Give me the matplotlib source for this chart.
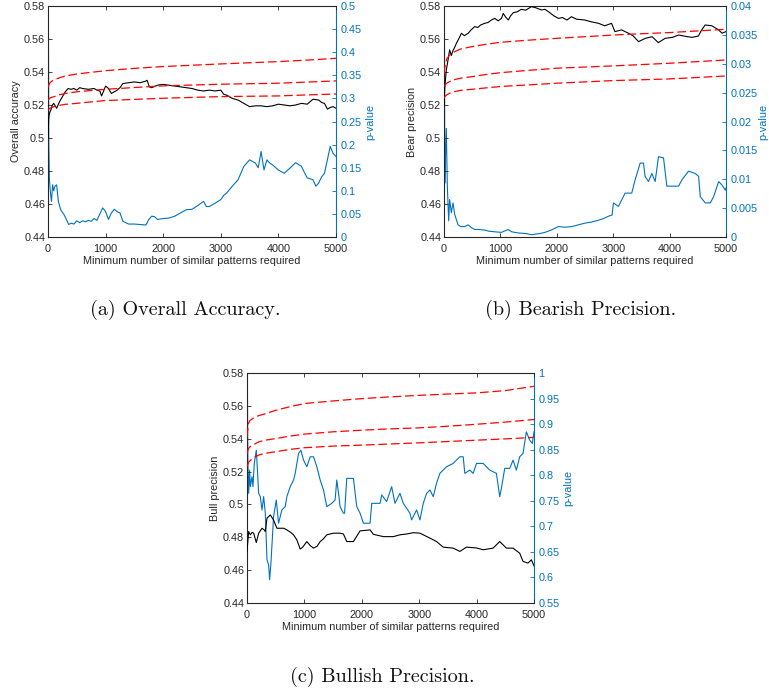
import matplotlib
matplotlib.use("Agg")
import matplotlib.pyplot as plt
from matplotlib.ticker import FuncFormatter

plt.rcParams['font.family'] = ['Liberation Sans', 'DejaVu Sans']

# ---------------- shared ----------------
x_ticks = [0, 1000, 2000, 3000, 4000, 5000]
left_ticks = [0.44, 0.46, 0.48, 0.5, 0.52, 0.54, 0.56, 0.58]
xlabel = "Minimum number of similar patterns required"
red_x = [0, 25, 50, 100, 200, 300, 500, 750, 1000, 1500, 2000, 2500, 3000, 3500, 4000, 4500, 5000]

# ---------------- (a) overall accuracy ----------------
a_acc_x = [0, 6, 12, 25, 50, 75, 100, 150, 200, 250, 300, 350, 400, 450, 500, 550, 600, 700, 800,
           850, 900, 930, 960, 1000, 1050, 1100, 1150, 1200, 1250, 1300, 1400, 1500, 1600, 1650,
           1700, 1720, 1760, 1800, 1900, 2000, 2100, 2200, 2300, 2400, 2500, 2600, 2700, 2800,
           2900, 3000, 3050, 3100, 3200, 3300, 3400, 3500, 3600, 3700, 3800, 3900, 4000, 4100,
           4200, 4300, 4400, 4500, 4600, 4700, 4750, 4800, 4850, 4900, 4950, 5000]
a_acc_y = [0.500, 0.506, 0.512, 0.515, 0.517, 0.520, 0.521, 0.518, 0.522, 0.525, 0.528, 0.530,
           0.5295, 0.530, 0.529, 0.5305, 0.530, 0.5295, 0.530, 0.529, 0.5285, 0.5255, 0.528,
           0.5315, 0.530, 0.527, 0.528, 0.529, 0.5305, 0.533, 0.5335, 0.534, 0.5335, 0.534,
           0.5345, 0.535, 0.531, 0.5305, 0.532, 0.5325, 0.532, 0.5315, 0.531, 0.5305, 0.530,
           0.529, 0.5285, 0.529, 0.5285, 0.529, 0.5265, 0.526, 0.524, 0.523, 0.521, 0.519,
           0.5195, 0.5195, 0.519, 0.5195, 0.5205, 0.520, 0.5195, 0.520, 0.521, 0.5205, 0.5235,
           0.523, 0.5215, 0.521, 0.5175, 0.5185, 0.519, 0.518]
a_p_x = [0, 8, 14, 25, 40, 60, 80, 100, 120, 150, 180, 220, 280, 330, 360, 400, 450, 500, 550,
         600, 650, 700, 750, 800, 850, 900, 950, 1000, 1050, 1100, 1150, 1200, 1250, 1300, 1400,
         1500, 1600, 1700, 1750, 1800, 1850, 1900, 2000, 2100, 2200, 2300, 2400, 2500, 2600,
         2700, 2750, 2800, 2900, 3000, 3050, 3100, 3200, 3300, 3400, 3500, 3600, 3650, 3700,
         3750, 3800, 3850, 3900, 4000, 4100, 4200, 4300, 4400, 4450, 4500, 4600, 4650, 4700,
         4750, 4800, 4850, 4900, 4950, 5000]
a_p_y = [0.45, 0.44, 0.20, 0.124, 0.099, 0.077, 0.113, 0.10, 0.11, 0.113, 0.077, 0.059, 0.048,
         0.035, 0.027, 0.03, 0.028, 0.035, 0.031, 0.035, 0.033, 0.036, 0.034, 0.04, 0.036, 0.05,
         0.063, 0.055, 0.038, 0.052, 0.06, 0.055, 0.052, 0.034, 0.028, 0.028, 0.027, 0.026,
         0.038, 0.045, 0.044, 0.038, 0.040, 0.041, 0.045, 0.052, 0.059, 0.060, 0.068, 0.077,
         0.066, 0.066, 0.073, 0.081, 0.09, 0.095, 0.11, 0.124, 0.153, 0.167, 0.160, 0.15, 0.185,
         0.145, 0.167, 0.16, 0.156, 0.145, 0.138, 0.149, 0.161, 0.153, 0.14, 0.128, 0.124, 0.11,
         0.117, 0.13, 0.138, 0.167, 0.196, 0.181, 0.174]
a_red_hi = [0.5308, 0.533, 0.534, 0.5352, 0.5365, 0.5376, 0.5388, 0.5398, 0.5408, 0.5422, 0.5433,
            0.5441, 0.5449, 0.5456, 0.5463, 0.5472, 0.5483]
a_red_mid = [0.523, 0.524, 0.5245, 0.525, 0.5262, 0.527, 0.528, 0.5288, 0.5295, 0.5306, 0.5316,
             0.5321, 0.5326, 0.5329, 0.5332, 0.5339, 0.5346]
a_red_lo = [0.517, 0.5178, 0.5183, 0.519, 0.5198, 0.5204, 0.521, 0.5219, 0.5227, 0.5234, 0.5241,
            0.5246, 0.5251, 0.5253, 0.5255, 0.5261, 0.5267]
a_right_ticks = [0, 0.05, 0.1, 0.15, 0.2, 0.25, 0.3, 0.35, 0.4, 0.45, 0.5]

# ---------------- (b) bearish precision ----------------
b_prec_x = [0, 15, 40, 70, 100, 130, 160, 190, 220, 260, 310, 360, 430, 480, 545, 600, 650, 720,
            780, 840, 900, 960, 1020, 1050, 1100, 1140, 1180, 1230, 1300, 1370, 1450, 1550, 1620,
            1730, 1790, 1850, 1950, 2030, 2100, 2180, 2260, 2350, 2500, 2600, 2740, 2850, 2970,
            3030, 3150, 3270, 3350, 3450, 3570, 3690, 3800, 3920, 4050, 4160, 4300, 4400, 4510,
            4560, 4630, 4750, 4870, 4930, 5000]
b_prec_y = [0.52, 0.531, 0.541, 0.547, 0.5534, 0.550, 0.553, 0.555, 0.5574, 0.560, 0.5635, 0.562,
            0.5635, 0.5655, 0.5675, 0.567, 0.5685, 0.5695, 0.570, 0.5715, 0.5725, 0.571, 0.5725,
            0.5755, 0.573, 0.5715, 0.574, 0.576, 0.5765, 0.578, 0.5775, 0.5796, 0.579, 0.5776,
            0.578, 0.5766, 0.574, 0.5725, 0.573, 0.5715, 0.5735, 0.572, 0.5715, 0.5705, 0.5695,
            0.568, 0.5695, 0.5645, 0.5655, 0.5635, 0.562, 0.5584, 0.5604, 0.5614, 0.5578, 0.5604,
            0.561, 0.5624, 0.5615, 0.561, 0.5618, 0.565, 0.5685, 0.568, 0.5655, 0.5635, 0.5645]
b_p_x = [0, 8, 14, 20, 41, 59, 83, 100, 130, 160, 190, 249, 300, 367, 427, 490, 545, 620, 723,
         800, 900, 1019, 1137, 1200, 1315, 1450, 1552, 1700, 1789, 1900, 2026, 2150, 2263, 2380,
         2500, 2620, 2737, 2830, 2915, 2980, 3004, 3093, 3211, 3329, 3389, 3478, 3537, 3566,
         3626, 3685, 3744, 3803, 3892, 3951, 4159, 4218, 4336, 4455, 4514, 4544, 4633, 4722,
         4781, 4870, 4929, 4988, 5000]
b_p_y = [0.0361, 0.0355, 0.0093, 0.012, 0.0188, 0.0088, 0.0028, 0.0065, 0.0042, 0.0059, 0.0039,
         0.0021, 0.0018, 0.0018, 0.0021, 0.0016, 0.0013, 0.0013, 0.0012, 0.001, 0.0009, 0.0008,
         0.0013, 0.0009, 0.0007, 0.0006, 0.0004, 0.0006, 0.0008, 0.0012, 0.0018, 0.0017, 0.0018,
         0.0021, 0.0024, 0.0026, 0.0029, 0.0032, 0.0036, 0.0038, 0.0059, 0.0053, 0.0076, 0.0076,
         0.0099, 0.0128, 0.0128, 0.0105, 0.0096, 0.011, 0.0096, 0.0139, 0.0137, 0.0088, 0.0088,
         0.0099, 0.0114, 0.011, 0.0105, 0.007, 0.0059, 0.0059, 0.007, 0.0096, 0.009, 0.0081,
         0.0085]
b_red_hi = [0.539, 0.545, 0.548, 0.5503, 0.5525, 0.554, 0.5554, 0.5568, 0.558, 0.5593, 0.5604,
            0.5614, 0.5624, 0.5632, 0.5639, 0.5649, 0.5659]
b_red_mid = [0.5312, 0.5325, 0.5332, 0.5342, 0.5355, 0.5363, 0.5372, 0.5385, 0.5396, 0.541,
             0.5423, 0.5430, 0.5437, 0.5445, 0.5453, 0.5463, 0.5473]
b_red_lo = [0.5241, 0.5255, 0.5262, 0.5271, 0.5282, 0.5289, 0.5295, 0.5304, 0.5312, 0.5322,
            0.5332, 0.534, 0.5348, 0.5353, 0.5358, 0.5367, 0.5376]
b_right_ticks = [0, 0.005, 0.01, 0.015, 0.02, 0.025, 0.03, 0.035, 0.04]

# ---------------- (c) bullish precision ----------------
c_prec_x = [0, 29, 58, 90, 116, 162, 203, 261, 300, 319, 348, 406, 463, 521, 579, 640, 695, 760,
            811, 869, 927, 970, 1043, 1100, 1159, 1220, 1275, 1330, 1390, 1506, 1622, 1680, 1738,
            1854, 1970, 2144, 2202, 2376, 2549, 2665, 2781, 2897, 3013, 3100, 3187, 3302, 3418,
            3592, 3708, 3824, 4000, 4114, 4287, 4403, 4519, 4635, 4751, 4809, 4896, 4954, 5000]
c_prec_y = [0.4714, 0.4835, 0.4815, 0.483, 0.4825, 0.4768, 0.4825, 0.4855, 0.4845, 0.4835, 0.4916,
            0.4936, 0.4905, 0.4855, 0.4855, 0.4855, 0.4845, 0.483, 0.4815, 0.4784, 0.4728, 0.474,
            0.4774, 0.475, 0.4734, 0.4745, 0.4774, 0.479, 0.4815, 0.4825, 0.4825, 0.482, 0.4774,
            0.4774, 0.4839, 0.4845, 0.4818, 0.4804, 0.4804, 0.4815, 0.482, 0.4828, 0.4825, 0.481,
            0.4795, 0.4774, 0.474, 0.4734, 0.4714, 0.474, 0.4735, 0.4724, 0.4734, 0.4774, 0.4734,
            0.4734, 0.4703, 0.4653, 0.4643, 0.4663, 0.4626]
c_p_x = [0, 8, 15, 29, 46, 58, 87, 104, 127, 162, 185, 203, 232, 261, 290, 319, 348, 377, 394,
         417, 463, 510, 550, 608, 666, 695, 753, 811, 840, 898, 938, 985, 1043, 1101, 1159, 1217,
         1275, 1333, 1390, 1477, 1535, 1564, 1600, 1622, 1680, 1700, 1738, 1854, 1912, 1970,
         2028, 2144, 2173, 2318, 2347, 2433, 2520, 2578, 2665, 2723, 2839, 2868, 2955, 3013,
         3071, 3129, 3187, 3245, 3302, 3360, 3476, 3592, 3708, 3766, 3795, 3882, 3940, 3998,
         4114, 4229, 4345, 4403, 4432, 4490, 4577, 4635, 4693, 4751, 4809, 4867, 4925, 4971, 5000]
c_p_y = [0.9597, 0.95, 0.83, 0.7646, 0.81, 0.7776, 0.797, 0.7776, 0.8231, 0.8491, 0.8036, 0.7646,
         0.7581, 0.7321, 0.7581, 0.7256, 0.6346, 0.6248, 0.5956, 0.6281, 0.7191, 0.7516, 0.7061,
         0.7321, 0.7386, 0.7581, 0.7776, 0.7906, 0.8036, 0.8426, 0.8491, 0.8296, 0.8166, 0.8361,
         0.8361, 0.8166, 0.7906, 0.7711, 0.7386, 0.745, 0.7516, 0.7906, 0.76, 0.7386, 0.7256,
         0.7256, 0.7939, 0.7939, 0.7386, 0.7256, 0.7061, 0.7061, 0.745, 0.745, 0.7614, 0.7484,
         0.7776, 0.745, 0.7646, 0.745, 0.7256, 0.7126, 0.7321, 0.7126, 0.745, 0.7646, 0.7711,
         0.7581, 0.7841, 0.8036, 0.8166, 0.8231, 0.8361, 0.8361, 0.8036, 0.8101, 0.8036, 0.8231,
         0.8231, 0.8101, 0.8036, 0.7581, 0.7744, 0.8134, 0.8134, 0.8296, 0.8101, 0.8361, 0.8426,
         0.8849, 0.8686, 0.8621, 0.8849]
c_red_hi = [0.5412, 0.5493, 0.551, 0.5523, 0.554, 0.555, 0.5573, 0.5595, 0.5614, 0.563, 0.5644,
            0.5655, 0.5664, 0.5672, 0.5679, 0.5693, 0.5719]
c_red_mid = [0.531, 0.534, 0.535, 0.5361, 0.538, 0.539, 0.5401, 0.5416, 0.5428, 0.5442, 0.5452,
             0.546, 0.5466, 0.5476, 0.5488, 0.5501, 0.5517]
c_red_lo = [0.523, 0.5255, 0.5265, 0.528, 0.53, 0.531, 0.5321, 0.5335, 0.5345, 0.5355, 0.5361,
            0.5368, 0.5375, 0.5383, 0.5391, 0.5399, 0.5408]
c_right_ticks = [0.55, 0.6, 0.65, 0.7, 0.75, 0.8, 0.85, 0.9, 0.95, 1]

BLUE = "#0072BD"
TXT = "#262626"
FS = 7.8
fmt = FuncFormatter(lambda v, _: "%g" % round(v, 6))

W, H = 769, 690
fig = plt.figure(figsize=(W / 100, H / 100), dpi=100)


def px_axes(l, t, r, b):
    return fig.add_axes([l / W, 1 - b / H, (r - l) / W, (b - t) / H])


def panel(rect, acc_x, acc_y, p_x, p_y, reds, right_ticks, ylab, rpad=3):
    ax = px_axes(*rect)
    ax.plot(acc_x, acc_y, color="black", lw=0.8, zorder=3)
    for r in reds:
        ax.plot(red_x, r, color="#FF0000", lw=0.9, dashes=(7, 3), zorder=4)
    ax.set_xlim(0, 5000)
    ax.set_ylim(0.44, 0.58)
    ax.set_xticks(x_ticks)
    ax.set_yticks(left_ticks)
    ax.yaxis.set_major_formatter(fmt)
    ax.set_xlabel(xlabel, fontsize=FS, color=TXT, labelpad=1.5)
    ax.set_ylabel(ylab, fontsize=FS, color=TXT, labelpad=2)
    ax.tick_params(direction="in", length=3, width=0.6, labelsize=FS, colors=TXT)
    ax.tick_params(axis="x", top=True, pad=5)
    ax.tick_params(axis="y", pad=2)
    for s in ["left", "bottom", "top"]:
        ax.spines[s].set_linewidth(0.8)
        ax.spines[s].set_color("#262626")
    ax.spines["right"].set_visible(False)

    ax2 = ax.twinx()
    ax2.plot(p_x, p_y, color=BLUE, lw=0.8, zorder=2)
    ax2.set_ylim(right_ticks[0], right_ticks[-1])
    ax2.set_yticks(right_ticks)
    ax2.yaxis.set_major_formatter(fmt)
    ax2.set_ylabel("p-value", fontsize=FS, color=BLUE, labelpad=rpad)
    ax2.tick_params(axis="y", direction="in", length=3, width=0.6, labelsize=FS,
                    colors=BLUE, pad=3)
    for s in ["left", "bottom", "top"]:
        ax2.spines[s].set_visible(False)
    ax2.spines["right"].set_color(BLUE)
    ax2.spines["right"].set_linewidth(0.8)
    ax.set_zorder(ax2.get_zorder() + 1)
    ax.patch.set_visible(False)
    return ax


panel((48, 6, 336, 237), a_acc_x, a_acc_y, a_p_x, a_p_y,
      [a_red_hi, a_red_mid, a_red_lo], a_right_ticks, "Overall accuracy")
panel((444, 6, 726, 237), b_prec_x, b_prec_y, b_p_x, b_p_y,
      [b_red_hi, b_red_mid, b_red_lo], b_right_ticks, "Bear precision", rpad=0.5)
panel((247, 373, 534, 603), c_prec_x, c_prec_y, c_p_x, c_p_y,
      [c_red_hi, c_red_mid, c_red_lo], c_right_ticks, "Bull precision")

cap = dict(fontsize=14.5, family="cmr10", ha="center", va="center", color="#111111")
fig.text(185 / W, 1 - 310 / H, "(a) Overall Accuracy.", **cap)
fig.text(581 / W, 1 - 310 / H, "(b) Bearish Precision.", **cap)
fig.text(382 / W, 1 - 677 / H, "(c) Bullish Precision.", **cap)

fig.savefig("out.png", dpi=100)
